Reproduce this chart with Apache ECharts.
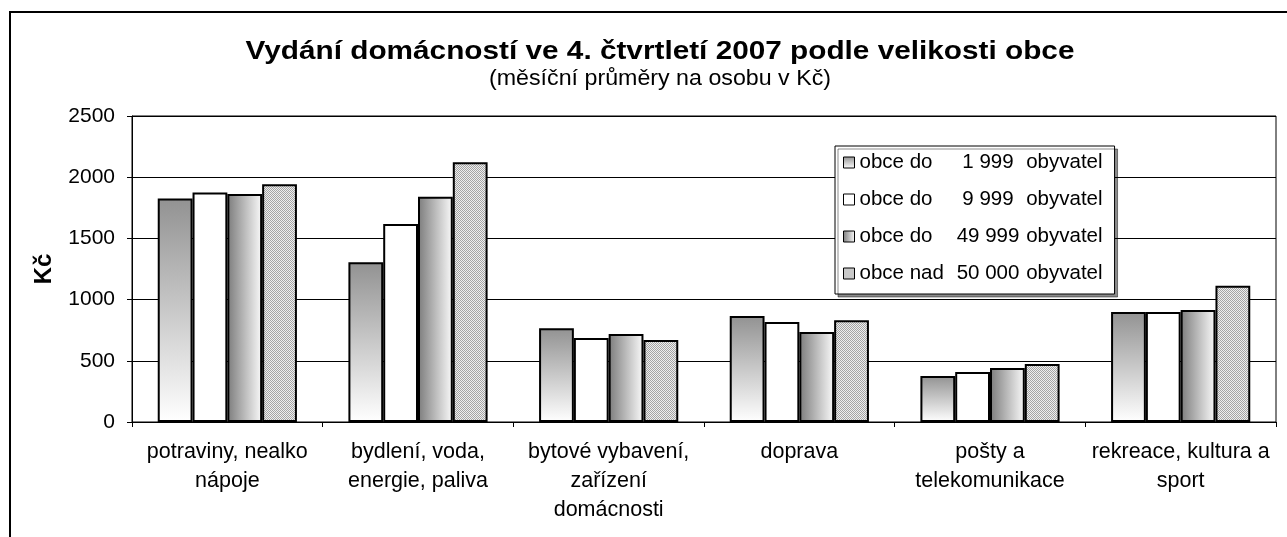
<!DOCTYPE html>
<html><head><meta charset="utf-8">
<script src="https://cdn.jsdelivr.net/npm/echarts@6/dist/echarts.min.js"></script>
<style>html,body{margin:0;padding:0;background:#fff}#c{width:1287px;height:537px}</style>
</head><body><div id="c"></div>
<script>
const categories = ['potraviny, nealko\nnápoje', 'bydlení, voda,\nenergie, paliva', 'bytové vybavení,\nzařízení\ndomácnosti', 'doprava', 'pošty a\ntelekomunikace', 'rekreace, kultura a\nsport'];
const legendPrefix = ['obce do', 'obce do', 'obce do', 'obce nad'];
const legendNumber = ['1 999', '9 999', '49 999', '50 000'];
const legendSuffix = 'obyvatel';
const s1 = [1827, 1305, 765, 866, 376, 899];
const s2 = [1876, 1618, 686, 817, 408, 899];
const s3 = [1863, 1841, 719, 735, 441, 915];
const s4 = [1942, 2122, 670, 831, 474, 1114];
const yMin = 0, yMax = 2500, yStep = 500;
const titleText = 'Vydání domácností ve 4. čtvrtletí 2007 podle velikosti obce';
const subtitleText = '(měsíční průměry na osobu v Kč)';
const yName = 'Kč';

const FONT = '"Liberation Sans", Arial, sans-serif';
const names = legendPrefix.map((p, i) => p + ' ' + legendNumber[i] + ' ' + legendSuffix);

const pc = document.createElement('canvas'); pc.width = 4; pc.height = 4;
const pctx = pc.getContext('2d');
pctx.fillStyle = '#eeeeee'; pctx.fillRect(0, 0, 4, 4);
pctx.fillStyle = '#a4a4a4';
for (let y = 0; y < 4; y++) for (let x = 0; x < 4; x++) if ((x + y) % 2 === 0) pctx.fillRect(x, y, 1, 1);

const styles = [
  { type: 'linear', x: 0, y: 0, x2: 0, y2: 1, colorStops: [{ offset: 0, color: '#929292' }, { offset: 1, color: '#ffffff' }] },
  '#ffffff',
  { type: 'linear', x: 0, y: 0, x2: 1, y2: 0, colorStops: [{ offset: 0, color: '#7c7c7c' }, { offset: 1, color: '#fafafa' }] },
  { image: pc, repeat: 'repeat' }
];
const data = [s1, s2, s3, s4];

const chart = echarts.init(document.getElementById('c'), null, { renderer: 'canvas' });
chart.setOption({
  animation: false,
  backgroundColor: '#fff',
  textStyle: { fontFamily: FONT, color: '#000' },
  graphic: [
    { type: 'rect', silent: true, z: -10, shape: { x: 10, y: 12, width: 1300, height: 600 }, style: { fill: 'none', stroke: '#000', lineWidth: 2 } },
    { type: 'text', x: 660, y: 52, scaleX: 1.19, style: { text: titleText, fontSize: 25, fontWeight: 'bold', fontFamily: FONT, fill: '#000', textAlign: 'center', textVerticalAlign: 'middle', align: 'center', verticalAlign: 'middle' } },
    { type: 'text', x: 660, y: 79, scaleX: 1.08, style: { text: subtitleText, fontSize: 21.5, fontFamily: FONT, fill: '#000', textAlign: 'center', textVerticalAlign: 'middle', align: 'center', verticalAlign: 'middle' } }
  ],
  grid: { left: 132, right: 11, top: 116, bottom: 115, show: true, borderColor: '#000', borderWidth: 1, backgroundColor: 'transparent', containLabel: false },
  legend: {
    orient: 'vertical', left: 835, top: 146,
    data: names,
    itemWidth: 11, itemHeight: 11, itemGap: 16,
    padding: [6, 12, 10, 8],
    backgroundColor: '#fff', borderColor: '#000', borderWidth: 1,
    shadowColor: 'rgba(0,0,0,0.45)', shadowOffsetX: 3, shadowOffsetY: 3, shadowBlur: 0,
    itemStyle: { borderColor: '#000', borderWidth: 1 },
    icon: 'rect',
    formatter: function (n) {
      const i = names.indexOf(n);
      return '{p|' + legendPrefix[i] + '}{n|' + legendNumber[i] + '}{s| ' + legendSuffix + '}';
    },
    textStyle: {
      fontFamily: FONT, fontSize: 20.5, color: '#000', lineHeight: 20,
      rich: {
        p: { fontFamily: FONT, fontSize: 20.5, width: 96, align: 'left', lineHeight: 20 },
        n: { fontFamily: FONT, fontSize: 20.5, width: 65, align: 'right', lineHeight: 20 },
        s: { fontFamily: FONT, fontSize: 20.5, lineHeight: 20 }
      }
    }
  },
  xAxis: {
    type: 'category', data: categories,
    axisLine: { show: true, lineStyle: { color: '#000', width: 1 } },
    axisTick: { show: true, interval: 0, length: 5, lineStyle: { color: '#000' } },
    axisLabel: { interval: 0, fontSize: 21.5, lineHeight: 29, margin: 16, color: '#000', fontFamily: FONT },
    splitLine: { show: false }
  },
  yAxis: {
    type: 'value', min: yMin, max: yMax, interval: yStep,
    name: yName, nameLocation: 'middle', nameRotate: 90, nameGap: 76,
    nameTextStyle: { fontSize: 24, fontWeight: 'bold', color: '#000', fontFamily: FONT },
    axisLine: { show: true, lineStyle: { color: '#000', width: 1 } },
    axisTick: { show: true, length: 5, lineStyle: { color: '#000' } },
    axisLabel: { fontSize: 21, margin: 17, color: '#000', fontFamily: FONT, formatter: v => String(v) },
    splitLine: { show: true, lineStyle: { color: '#000', width: 1 } }
  },
  series: data.map((d, i) => ({
    type: 'bar', name: names[i], data: d,
    barGap: '0%', barCategoryGap: '27%',
    itemStyle: { color: styles[i], borderColor: '#000', borderWidth: 2 }
  }))
});
</script>
</body></html>
